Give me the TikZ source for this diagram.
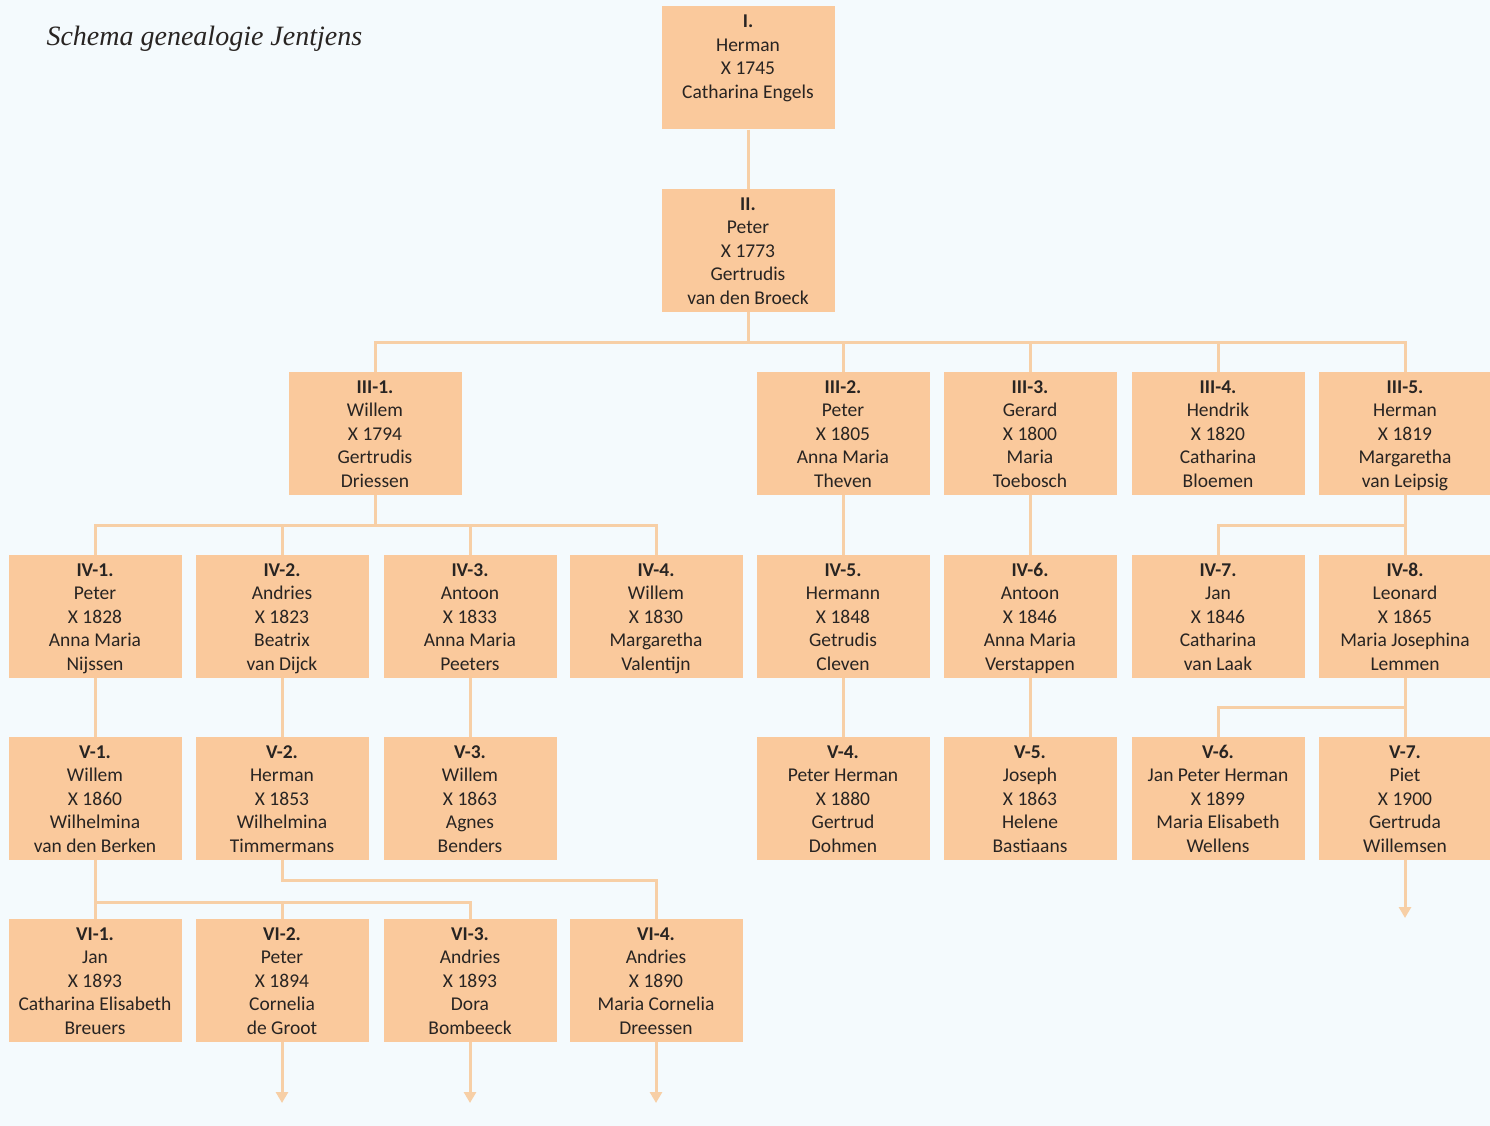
\documentclass[tikz,border=0pt]{standalone}
\usepackage{fontspec}
\setmainfont{Carlito}
\newfontfamily\titlefont{Liberation Serif}
\usetikzlibrary{arrows.meta}
\definecolor{bgc}{RGB}{244,250,253}
\definecolor{boxc}{RGB}{250,201,156}
\definecolor{linec}{RGB}{247,207,166}
\definecolor{textc}{RGB}{40,36,34}
\tikzset{
  person/.style={rectangle, fill=boxc, draw=none, minimum width=173pt, minimum height=123pt,
    inner sep=0pt, align=center, text=textc, font=\fontsize{19.5}{23.5}\selectfont},
  link/.style={draw=linec, line width=3pt},
  tip/.style={-{Triangle[width=12pt,length=11pt]}}
}
\newcommand{\pers}[5]{\rule{0pt}{21pt}\textbf{#1}\\#2\\#3\\#4\\#5\strut}
\begin{document}
\begin{tikzpicture}[x=1pt,y=-1pt]
\clip (0,0) rectangle (1490,1126);
\fill[bgc] (0,0) rectangle (1490,1126);

\node[anchor=base west, text=textc, font=\titlefont\itshape\fontsize{28}{31}\selectfont] (title) at (43,46) {Schema genealogie Jentjens};

% generation I & II
\node[person] (I) at (748,68) {\pers{I.}{Herman}{X 1745}{Catharina Engels}{\mbox{}}};
\node[person] (II) at (748,250.5) {\pers{II.}{Peter}{X 1773}{Gertrudis}{van den Broeck}};

% generation III
\node[person] (III1) at (375,433.5) {\pers{III-1.}{Willem}{X 1794}{Gertrudis}{Driessen}};
\node[person] (III2) at (843,433.5) {\pers{III-2.}{Peter}{X 1805}{Anna Maria}{Theven}};
\node[person] (III3) at (1030,433.5) {\pers{III-3.}{Gerard}{X 1800}{Maria}{Toebosch}};
\node[person] (III4) at (1218,433.5) {\pers{III-4.}{Hendrik}{X 1820}{Catharina}{Bloemen}};
\node[person] (III5) at (1405,433.5) {\pers{III-5.}{Herman}{X 1819}{Margaretha}{van Leipsig}};

% generation IV
\node[person] (IV1) at (95,616.5) {\pers{IV-1.}{Peter}{X 1828}{Anna Maria}{Nijssen}};
\node[person] (IV2) at (282,616.5) {\pers{IV-2.}{Andries}{X 1823}{Beatrix}{van Dijck}};
\node[person] (IV3) at (470,616.5) {\pers{IV-3.}{Antoon}{X 1833}{Anna Maria}{Peeters}};
\node[person] (IV4) at (656,616.5) {\pers{IV-4.}{Willem}{X 1830}{Margaretha}{Valentijn}};
\node[person] (IV5) at (843,616.5) {\pers{IV-5.}{Hermann}{X 1848}{Getrudis}{Cleven}};
\node[person] (IV6) at (1030,616.5) {\pers{IV-6.}{Antoon}{X 1846}{Anna Maria}{Verstappen}};
\node[person] (IV7) at (1218,616.5) {\pers{IV-7.}{Jan}{X 1846}{Catharina}{van Laak}};
\node[person] (IV8) at (1405,616.5) {\pers{IV-8.}{Leonard}{X 1865}{Maria Josephina}{Lemmen}};

% generation V
\node[person] (V1) at (95,798.5) {\pers{V-1.}{Willem}{X 1860}{Wilhelmina}{van den Berken}};
\node[person] (V2) at (282,798.5) {\pers{V-2.}{Herman}{X 1853}{Wilhelmina}{Timmermans}};
\node[person] (V3) at (470,798.5) {\pers{V-3.}{Willem}{X 1863}{Agnes}{Benders}};
\node[person] (V4) at (843,798.5) {\pers{V-4.}{Peter Herman}{X 1880}{Gertrud}{Dohmen}};
\node[person] (V5) at (1030,798.5) {\pers{V-5.}{Joseph}{X 1863}{Helene}{Bastiaans}};
\node[person] (V6) at (1218,798.5) {\pers{V-6.}{Jan Peter Herman}{X 1899}{Maria Elisabeth}{Wellens}};
\node[person] (V7) at (1405,798.5) {\pers{V-7.}{Piet}{X 1900}{Gertruda}{Willemsen}};

% generation VI
\node[person] (VI1) at (95,980.5) {\pers{VI-1.}{Jan}{X 1893}{Catharina Elisabeth}{Breuers}};
\node[person] (VI2) at (282,980.5) {\pers{VI-2.}{Peter}{X 1894}{Cornelia}{de Groot}};
\node[person] (VI3) at (470,980.5) {\pers{VI-3.}{Andries}{X 1893}{Dora}{Bombeeck}};
\node[person] (VI4) at (656,980.5) {\pers{VI-4.}{Andries}{X 1890}{Maria Cornelia}{Dreessen}};

% bus coordinates
\coordinate (b2) at (748,342);
\coordinate (b31) at (375,525);
\coordinate (b35) at (1405,525);
\coordinate (b48) at (1405,707);
\coordinate (b51) at (95,902);
\coordinate (b52) at (282,880);
\coordinate (e2) at (282,1103);
\coordinate (e3) at (470,1103);
\coordinate (e4) at (656,1103);
\coordinate (e7) at (1405,918);

% connectors
\draw[link] (I.south) -- (II.north);
\draw[link] (II.south) -- (b2);
\draw[link] (III1.north) -- (III1.north |- b2) -- (III5.north |- b2) -- (III5.north);
\draw[link] (III2.north) -- (III2.north |- b2);
\draw[link] (III3.north) -- (III3.north |- b2);
\draw[link] (III4.north) -- (III4.north |- b2);

\draw[link] (III1.south) -- (b31);
\draw[link] (IV1.north) -- (IV1.north |- b31) -- (IV4.north |- b31) -- (IV4.north);
\draw[link] (IV2.north) -- (IV2.north |- b31);
\draw[link] (IV3.north) -- (IV3.north |- b31);
\draw[link] (III2.south) -- (IV5.north);
\draw[link] (III3.south) -- (IV6.north);
\draw[link] (III5.south) -- (IV8.north);
\draw[link] (IV7.north) |- (b35);

\draw[link] (IV1.south) -- (V1.north);
\draw[link] (IV2.south) -- (V2.north);
\draw[link] (IV3.south) -- (V3.north);
\draw[link] (IV5.south) -- (V4.north);
\draw[link] (IV6.south) -- (V5.north);
\draw[link] (IV8.south) -- (V7.north);
\draw[link] (V6.north) |- (b48);

\draw[link] (V1.south) -- (VI1.north);
\draw[link] (b51) -- (VI3.north |- b51) -- (VI3.north);
\draw[link] (VI2.north) -- (VI2.north |- b51);
\draw[link] (V2.south) -- (b52) -- (VI4.north |- b52) -- (VI4.north);

\draw[link,tip] (VI2.south) -- (e2);
\draw[link,tip] (VI3.south) -- (e3);
\draw[link,tip] (VI4.south) -- (e4);
\draw[link,tip] (V7.south) -- (e7);
\end{tikzpicture}
\end{document}
